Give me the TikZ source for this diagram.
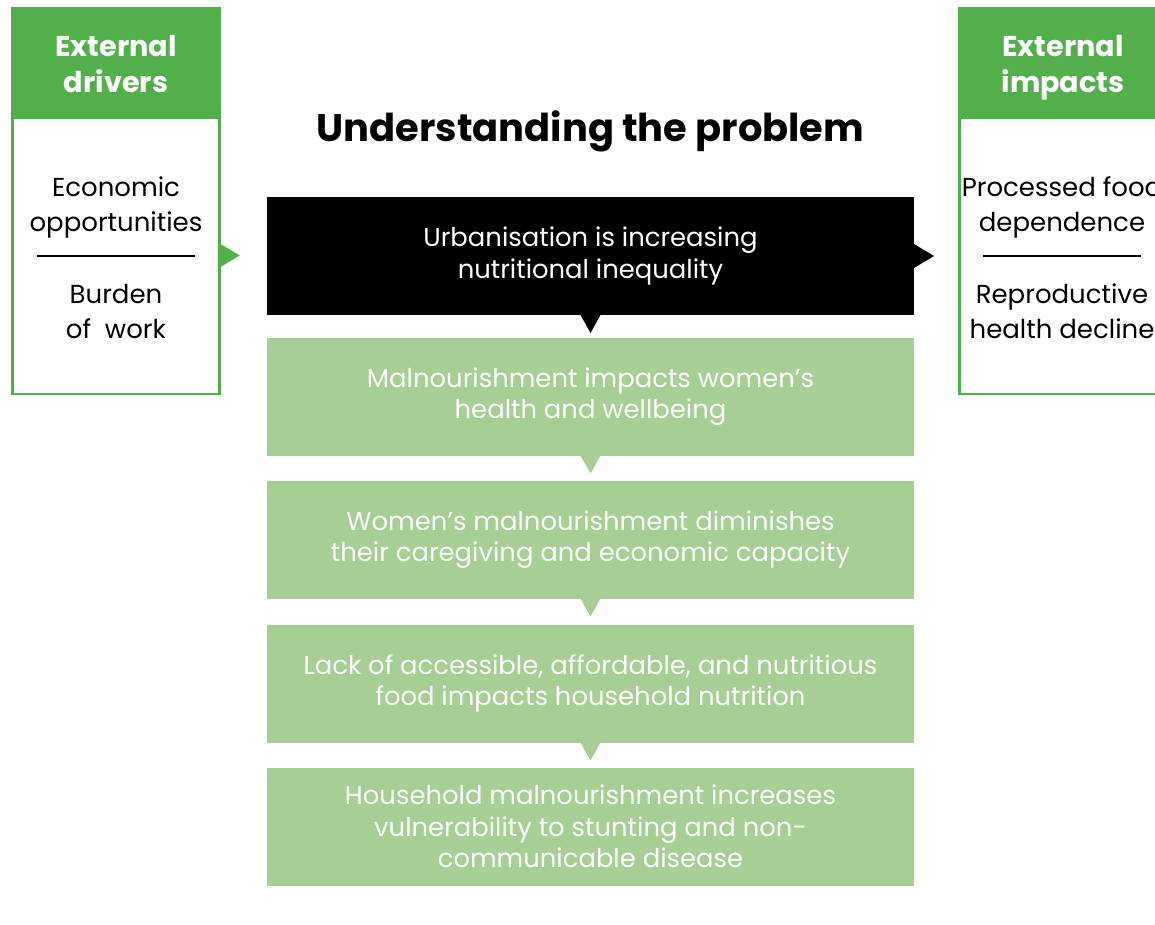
\documentclass[tikz,border=0pt]{standalone}
\usepackage{fontspec}
\setmainfont{Poppins}
\definecolor{gr}{HTML}{52B04A}
\definecolor{lg}{HTML}{A6CE95}
\begin{document}
\begin{tikzpicture}[x=0.75pt,y=-0.75pt,
  stepbox/.style={minimum width=485.25pt,minimum height=88.5pt,inner sep=0pt,outer sep=0pt,align=center,
    font=\fontsize{19.4}{23.5}\selectfont},
  greenbox/.style={stepbox,fill=lg,text=white},
  headbox/.style={fill=gr,minimum width=157.5pt,minimum height=81.75pt,inner sep=0pt,outer sep=0pt},
  headtext/.style={text=white,inner sep=0pt,align=center,font=\fontsize{21.5}{27.75}\selectfont\bfseries},
  sidebox/.style={draw=gr,line width=1.9pt,minimum width=155.6pt,minimum height=207.4pt,inner sep=0pt,outer sep=0pt},
  sidetext/.style={align=center,font=\fontsize{19.5}{26.25}\selectfont,inner sep=0pt},
  tri/.style={fill=lg}]
\useasboundingbox (0,0) rectangle (1155,924);
\begin{scope}
\clip (0,0) rectangle (1155,924);
% title
\node[font=\fontsize{28.8}{32}\selectfont\bfseries,inner sep=0pt] (title) at (590.5,131) {Understanding the problem};
% left box
\node[headbox] (lh) at (116,61.5) {};
\node[headtext,anchor=base] (lht) at (116,93) {External\\drivers};
\node[sidebox] (lb) at (116,255.5) {};
\node[sidetext] (l1) at (116,207) {Economic\\opportunities};
\node[sidetext] (l2) at (116,311) {Burden\\of\ \ work};
\coordinate (la) at (37,256); \coordinate (lz) at (195,256);
\draw[line width=1.5pt] (la) -- (lz);
% right box
\node[headbox] (rh) at (1063,61.5) {};
\node[headtext,anchor=base] (rht) at (1063,93) {External\\impacts};
\node[sidebox] (rb) at (1063,255.5) {};
\node[sidetext] (r1) at (1062,207) {Processed food\\dependence};
\node[sidetext] (r2) at (1062,311) {Reproductive\\health decline};
\coordinate (ra) at (983,256); \coordinate (rz) at (1141,256);
\draw[line width=1.5pt] (ra) -- (rz);
% central column
\node[stepbox,fill=black,text=white] (b0) at (590.5,256) {Urbanisation is increasing\\nutritional inequality};
\node[greenbox] (b1) at (590.5,396.5) {Malnourishment impacts women’s\\health and wellbeing};
\node[greenbox] (b2) at (590.5,539.5) {Women’s malnourishment diminishes\\their caregiving and economic capacity};
\node[greenbox] (b3) at (590.5,683.5) {Lack of accessible, affordable, and nutritious\\food impacts household nutrition};
\node[greenbox] (b4) at (590.5,826.5) {Household malnourishment increases\\vulnerability to stunting and non-\\communicable disease};
% pointers
\fill[gr] (lb.east) ++(0,-12) -- ++(20,12) -- ++(-20,12) -- cycle;
\fill[black] (b0.east) ++(0,-12) -- ++(20,12) -- ++(-20,12) -- cycle;
\fill[black] (b0.south) ++(-10,0) -- ++(20,0) -- ++(-10,18) -- cycle;
\fill[tri] (b1.south) ++(-10,0) -- ++(20,0) -- ++(-10,18) -- cycle;
\fill[tri] (b2.south) ++(-10,0) -- ++(20,0) -- ++(-10,18) -- cycle;
\fill[tri] (b3.south) ++(-10,0) -- ++(20,0) -- ++(-10,18) -- cycle;
\end{scope}
\end{tikzpicture}
\end{document}
